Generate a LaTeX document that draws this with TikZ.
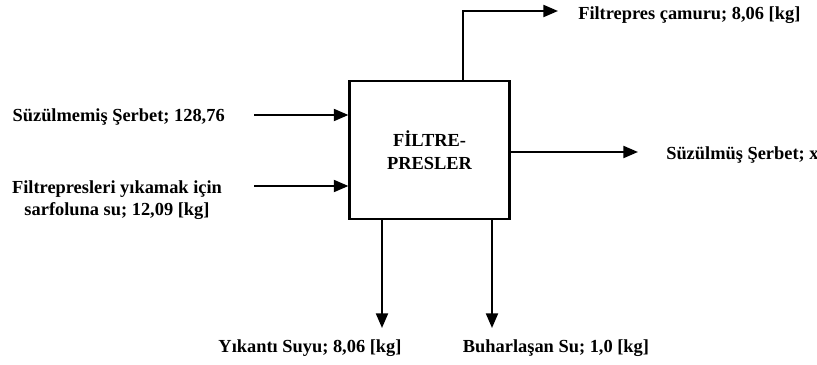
\documentclass[tikz,border=0pt]{standalone}
\usepackage{fontspec}
\setmainfont{Liberation Serif}
\usetikzlibrary{arrows.meta,positioning}

\begin{document}
\begin{tikzpicture}[
  x=0.75pt, y=-0.75pt,
  font=\fontsize{13.8}{17}\selectfont\bfseries,
  unit/.style={draw,line width=1.6pt,minimum width=120pt,minimum height=104pt,align=center,inner sep=0pt},
  lbl/.style={inner sep=0pt,align=center},
  flow/.style={-{Triangle[length=11pt,width=9pt]},line width=1.6pt},
]
\fill[white] (0,0) rectangle (817,364);
\useasboundingbox (0,0) rectangle (817,364);

% filter press unit
\node[unit] (fp) at (429.5,150) {FİLTRE-\\PRESLER};

% stream labels
\node[lbl,anchor=east] (in1)  at (225,117) {Süzülmemiş Şerbet; 128,76};
\node[lbl]             (in2)  at (117,200) {Filtrepresleri yıkamak için\\sarfoluna su; 12,09 [kg]};
\node[lbl,anchor=west] (out1) at (666,155) {Süzülmüş Şerbet; x};
\node[lbl,anchor=west] (cake) at (578,15)  {Filtrepres çamuru; 8,06 [kg]};
\node[lbl]             (wash) at (310,348) {Yıkantı Suyu; 8,06 [kg]};
\node[lbl]             (evap) at (556,348) {Buharlaşan Su; 1,0 [kg]};

% arrow ends
\coordinate (s1) at (254,115);
\coordinate (s2) at (254,186);
\coordinate (e1) at (638,152);
\coordinate (tc) at (463,11);
\coordinate (t1) at (558,11);
\coordinate (b1) at (382,328);
\coordinate (b2) at (492,328);

\draw[flow] (s1) -- (s1 -| fp.west);
\draw[flow] (s2) -- (s2 -| fp.west);
\draw[flow] (fp.east |- e1) -- (e1);
\draw[flow] (tc |- fp.north) -- (tc) -- (t1);
\draw[flow] (b1 |- fp.south) -- (b1);
\draw[flow] (b2 |- fp.south) -- (b2);
\end{tikzpicture}
\end{document}
